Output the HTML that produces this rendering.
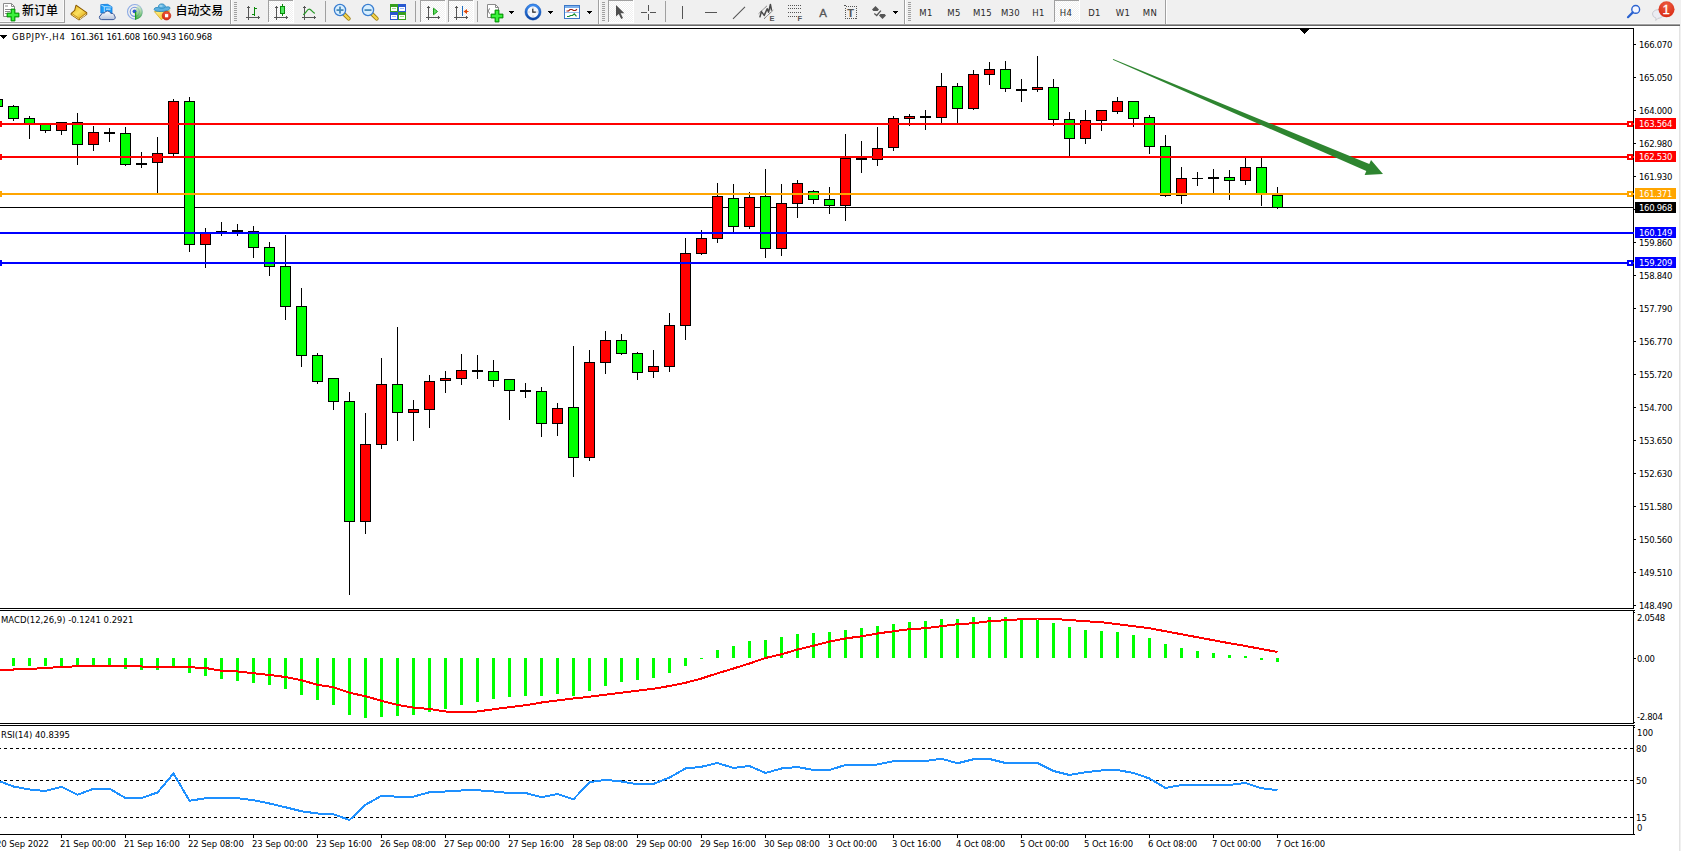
<!DOCTYPE html>
<html lang="zh"><head><meta charset="utf-8"><title>GBPJPY-,H4</title>
<style>
html,body{margin:0;padding:0;background:#fff}
body{width:1681px;height:851px;overflow:hidden;position:relative;font-family:"Liberation Sans","Noto Sans CJK SC",sans-serif}
#g{position:absolute;left:0;top:0}
.t{position:absolute;font-family:"DejaVu Sans Condensed","Liberation Sans",sans-serif;font-size:9.45px;line-height:12px;height:12px;margin-top:-2px;white-space:pre;color:#000}
.t.p{letter-spacing:-0.3px}
.t.w{color:#fff}
#edge{position:absolute;left:1679px;top:26px;width:1px;height:825px;background:#e3e3e3}
#edge2{position:absolute;left:1680px;top:0;width:1px;height:851px;background:#f0f0f0}
</style></head>
<body>
<svg id="tb" width="1681" height="28" viewBox="0 0 1681 28" style="position:absolute;left:0;top:0">
<defs><pattern id="chk" width="2" height="2" patternUnits="userSpaceOnUse"><rect width="2" height="2" fill="#f0f0f0"/><rect width="1" height="1" fill="#fff"/><rect x="1" y="1" width="1" height="1" fill="#fff"/></pattern></defs>
<g shape-rendering="crispEdges">
<rect x="0" y="0" width="1681" height="23" fill="#f0f0f0"/>
<rect x="0" y="23" width="1680" height="1" fill="#f6f6f6"/>
<rect x="0" y="24" width="1680" height="1" fill="#a0a0a0"/>
<rect x="0" y="25" width="1680" height="1" fill="#696969"/>
<rect x="0" y="26" width="1680" height="2" fill="#fff"/>
<rect x="1680" y="23" width="1" height="5" fill="#f0f0f0"/>
<rect x="0" y="22" width="65" height="1" fill="#a0a0a0"/><rect x="64" y="0" width="1" height="23" fill="#a0a0a0"/>
<rect x="0" y="21" width="64" height="1" fill="#fafafa"/><rect x="63" y="0" width="1" height="22" fill="#fafafa"/>
<rect x="230" y="0" width="1" height="24" fill="#a0a0a0"/><rect x="231" y="0" width="1" height="24" fill="#fff"/>
<rect x="234" y="2" width="3" height="1" fill="#a0a0a0"/><rect x="234" y="4" width="3" height="1" fill="#a0a0a0"/><rect x="234" y="6" width="3" height="1" fill="#a0a0a0"/><rect x="234" y="8" width="3" height="1" fill="#a0a0a0"/><rect x="234" y="10" width="3" height="1" fill="#a0a0a0"/><rect x="234" y="12" width="3" height="1" fill="#a0a0a0"/><rect x="234" y="14" width="3" height="1" fill="#a0a0a0"/><rect x="234" y="16" width="3" height="1" fill="#a0a0a0"/><rect x="234" y="18" width="3" height="1" fill="#a0a0a0"/><rect x="234" y="20" width="3" height="1" fill="#a0a0a0"/>
<rect x="325" y="1" width="1" height="21" fill="#a0a0a0"/>
<rect x="415" y="1" width="1" height="21" fill="#a0a0a0"/>
<rect x="477" y="1" width="1" height="21" fill="#a0a0a0"/>
<rect x="598" y="0" width="1" height="24" fill="#a0a0a0"/><rect x="599" y="0" width="1" height="24" fill="#fff"/>
<rect x="602" y="2" width="3" height="1" fill="#a0a0a0"/><rect x="602" y="4" width="3" height="1" fill="#a0a0a0"/><rect x="602" y="6" width="3" height="1" fill="#a0a0a0"/><rect x="602" y="8" width="3" height="1" fill="#a0a0a0"/><rect x="602" y="10" width="3" height="1" fill="#a0a0a0"/><rect x="602" y="12" width="3" height="1" fill="#a0a0a0"/><rect x="602" y="14" width="3" height="1" fill="#a0a0a0"/><rect x="602" y="16" width="3" height="1" fill="#a0a0a0"/><rect x="602" y="18" width="3" height="1" fill="#a0a0a0"/><rect x="602" y="20" width="3" height="1" fill="#a0a0a0"/>
<rect x="665" y="1" width="1" height="21" fill="#a0a0a0"/>
<rect x="904" y="0" width="1" height="24" fill="#a0a0a0"/><rect x="905" y="0" width="1" height="24" fill="#fff"/>
<rect x="908" y="2" width="3" height="1" fill="#a0a0a0"/><rect x="908" y="4" width="3" height="1" fill="#a0a0a0"/><rect x="908" y="6" width="3" height="1" fill="#a0a0a0"/><rect x="908" y="8" width="3" height="1" fill="#a0a0a0"/><rect x="908" y="10" width="3" height="1" fill="#a0a0a0"/><rect x="908" y="12" width="3" height="1" fill="#a0a0a0"/><rect x="908" y="14" width="3" height="1" fill="#a0a0a0"/><rect x="908" y="16" width="3" height="1" fill="#a0a0a0"/><rect x="908" y="18" width="3" height="1" fill="#a0a0a0"/><rect x="908" y="20" width="3" height="1" fill="#a0a0a0"/>
<rect x="1165" y="0" width="1" height="24" fill="#a0a0a0"/><rect x="1166" y="0" width="1" height="24" fill="#fff"/>
<rect x="268" y="0" width="26" height="23" fill="url(#chk)"/><rect x="268" y="0" width="25" height="1" fill="#a0a0a0"/><rect x="268" y="0" width="1" height="22" fill="#a0a0a0"/><rect x="293" y="0" width="1" height="23" fill="#fff"/><rect x="269" y="22" width="25" height="1" fill="#fff"/>
<rect x="420" y="0" width="26" height="23" fill="url(#chk)"/><rect x="420" y="0" width="25" height="1" fill="#a0a0a0"/><rect x="420" y="0" width="1" height="22" fill="#a0a0a0"/><rect x="445" y="0" width="1" height="23" fill="#fff"/><rect x="421" y="22" width="25" height="1" fill="#fff"/>
<rect x="448" y="0" width="26" height="23" fill="url(#chk)"/><rect x="448" y="0" width="25" height="1" fill="#a0a0a0"/><rect x="448" y="0" width="1" height="22" fill="#a0a0a0"/><rect x="473" y="0" width="1" height="23" fill="#fff"/><rect x="449" y="22" width="25" height="1" fill="#fff"/>
<rect x="608" y="0" width="26" height="23" fill="url(#chk)"/><rect x="608" y="0" width="25" height="1" fill="#a0a0a0"/><rect x="608" y="0" width="1" height="22" fill="#a0a0a0"/><rect x="633" y="0" width="1" height="23" fill="#fff"/><rect x="609" y="22" width="25" height="1" fill="#fff"/>
<rect x="1054" y="0" width="26" height="23" fill="url(#chk)"/><rect x="1054" y="0" width="25" height="1" fill="#a0a0a0"/><rect x="1054" y="0" width="1" height="22" fill="#a0a0a0"/><rect x="1079" y="0" width="1" height="23" fill="#fff"/><rect x="1055" y="22" width="25" height="1" fill="#fff"/>
</g>
<path d="M3.5 3.5h8l3 3v10h-11z" fill="#fff" stroke="#8a8a8a" stroke-width="1"/><path d="M11.5 3.5v3h3" fill="none" stroke="#8a8a8a" stroke-width="1"/><path d="M5.0 6.0h3M5.0 9.5h6M5.0 11.5h5M5.0 13.5h2.5" stroke="#8c8c8c" stroke-width="1"/>
<path d="M11 9h4v4h4v4h-4v4h-4v-4h-4v-4h4z" fill="#18c818" stroke="#0a8a0a" stroke-width="0.8"/><path d="M12 10h2v4h4v2h-4v4h-2v-4h-4v-2h4z" fill="#3cf03c"/>
<defs><linearGradient id="gBook" x1="0" y1="0" x2="1" y2="1"><stop offset="0" stop-color="#e8b818"/><stop offset="0.5" stop-color="#fbe060"/><stop offset="1" stop-color="#dca410"/></linearGradient><linearGradient id="gCloud" x1="0" y1="0" x2="0" y2="1"><stop offset="0" stop-color="#ffffff"/><stop offset="1" stop-color="#b8c4dc"/></linearGradient><linearGradient id="gSig" x1="0.5" y1="0" x2="0.5" y2="1"><stop offset="0" stop-color="#d8ecd0" stop-opacity="0.7"/><stop offset="1" stop-color="#28a428"/></linearGradient><linearGradient id="gFace" x1="0" y1="0" x2="1" y2="1"><stop offset="0" stop-color="#fff490"/><stop offset="1" stop-color="#f0b818"/></linearGradient><linearGradient id="gClock" x1="0" y1="0" x2="0" y2="1"><stop offset="0" stop-color="#3c8cf0"/><stop offset="1" stop-color="#0c48a8"/></linearGradient><radialGradient id="gBadge" cx="0.5" cy="0.25" r="0.8"><stop offset="0" stop-color="#ec5a40"/><stop offset="1" stop-color="#d82810"/></radialGradient></defs>
<path d="M76 5.3L86.7 12.8L86.7 14.2L79 19.9L71.2 14.6L71.2 13.4L74.7 10.5Z" fill="#c48c10" stroke="#8c5c04" stroke-width="1.1" stroke-linejoin="round"/><path d="M76.2 6L86 12.7L79 17.9L72.2 13.3L75.4 10.6Z" fill="url(#gBook)"/><path d="M71.8 14.4L79 19.2" fill="none" stroke="#f8dc70" stroke-width="0.9"/><path d="M79.8 19L86.4 14.1" fill="none" stroke="#ece0b4" stroke-width="1"/>
<path d="M100.8 4.6L107.6 4.3L112 6.8V13H100.8Z" fill="#1c9cf8" stroke="#1478d8" stroke-width="0.8" stroke-linejoin="round"/><path d="M101.4 5.2L104.3 6.6V12.5M104.3 6.6L111.6 7" fill="none" stroke="#d8f0ff" stroke-width="0.8"/><rect x="106" y="8.6" width="4.6" height="1" fill="#e8f6ff"/><path d="M101.6 19.6a2.3 2.3 0 0 1 -0.6-4.5a2.3 2.3 0 0 1 3.3-1.9a3.5 3.5 0 0 1 6.6 0.3a2.7 2.7 0 0 1 3.6 2.4a2.1 2.1 0 0 1 -1.3 3.7z" fill="url(#gCloud)" stroke="#3c5a9a" stroke-width="1" stroke-linejoin="round"/>
<circle cx="134.8" cy="11.8" r="7.3" fill="none" stroke="#6c94e0" stroke-width="1.1" opacity="0.75"/><circle cx="134.8" cy="11.8" r="4.6" fill="none" stroke="#4c78d8" stroke-width="1.1" opacity="0.8"/><path d="M134.8 11.8L137.6 4.9A7.5 7.5 0 0 1 135 19.5Z" fill="url(#gSig)" opacity="0.85"/><circle cx="134.5" cy="11.3" r="1.9" fill="#2c58d0"/><rect x="135" y="11.8" width="1.2" height="7.9" fill="#1ca01c"/>
<path d="M154.4 11.6L169.8 10.8L161.4 19.8Z" fill="url(#gFace)" stroke="#d8a818" stroke-width="0.8" stroke-linejoin="round"/><path d="M154.2 9.2C154.4 7.2 157 7.4 158.2 7.6C158.4 4.6 160 3.9 161.8 3.9S165.2 4.8 165.6 7.2C167.6 6.6 170 6.6 170 8C170 10 165.8 11.4 161.6 11.5S154 11 154.2 9.2Z" fill="#5cb0e0" stroke="#2484b8" stroke-width="0.8"/><path d="M158.8 7.6C160 8.6 163.6 8.6 165.2 7.4" fill="none" stroke="#2484b8" stroke-width="0.7"/><ellipse cx="161" cy="6" rx="1.8" ry="1.1" fill="#a8dcf4" opacity="0.8"/><circle cx="166.5" cy="15.7" r="4.3" fill="url(#gBadge)" stroke="#b81c08" stroke-width="0.6"/><rect x="165" y="14.1" width="3.2" height="3.2" fill="#fff"/>
<g fill="#555" shape-rendering="crispEdges"><rect x="248" y="6" width="1" height="14"/><rect x="247" y="7" width="3" height="1"/><rect x="246" y="17" width="14" height="1"/><rect x="258" y="16" width="1" height="3"/></g>
<g fill="#0a8a0a" shape-rendering="crispEdges"><rect x="254" y="7" width="1" height="9"/><rect x="255" y="8" width="2" height="1"/><rect x="252" y="14" width="2" height="1"/></g>
<g fill="#555" shape-rendering="crispEdges"><rect x="276" y="6" width="1" height="14"/><rect x="275" y="7" width="3" height="1"/><rect x="274" y="17" width="14" height="1"/><rect x="286" y="16" width="1" height="3"/></g>
<g shape-rendering="crispEdges"><rect x="282" y="4" width="1" height="12" fill="#0a8a0a"/><rect x="280" y="6" width="5" height="8" fill="#0a8a0a"/><rect x="281" y="7" width="3" height="6" fill="#50e860"/></g>
<g fill="#555" shape-rendering="crispEdges"><rect x="304" y="6" width="1" height="14"/><rect x="303" y="7" width="3" height="1"/><rect x="302" y="17" width="14" height="1"/><rect x="314" y="16" width="1" height="3"/></g>
<path d="M303.2 14.8C305.8 13.4 307 9.2 309.2 9.2S312.4 12.6 314.8 13.4" fill="none" stroke="#2a9a2a" stroke-width="1.2"/>
<line x1="344" y1="14" x2="348.7" y2="18.7" stroke="#9a7a10" stroke-width="4" stroke-linecap="round"/><line x1="344" y1="14" x2="348.7" y2="18.7" stroke="#f2d24a" stroke-width="2.4" stroke-linecap="round"/><circle cx="340" cy="10" r="5.6" fill="#d8efff" stroke="#3a7ed0" stroke-width="1.3"/><rect x="336.5" y="9.2" width="7" height="1.8" fill="#4a8ab8"/><rect x="339.1" y="6.6" width="1.8" height="7" fill="#4a8ab8"/>
<line x1="372" y1="14" x2="376.7" y2="18.7" stroke="#9a7a10" stroke-width="4" stroke-linecap="round"/><line x1="372" y1="14" x2="376.7" y2="18.7" stroke="#f2d24a" stroke-width="2.4" stroke-linecap="round"/><circle cx="368" cy="10" r="5.6" fill="#d8efff" stroke="#3a7ed0" stroke-width="1.3"/><rect x="364.5" y="9.2" width="7" height="1.8" fill="#4a8ab8"/>
<g shape-rendering="crispEdges"><rect x="390" y="4" width="8" height="8" fill="#38a020"/><rect x="398" y="4" width="8" height="8" fill="#2858d0"/><rect x="390" y="12" width="8" height="8" fill="#2858d0"/><rect x="398" y="12" width="8" height="8" fill="#38a020"/><rect x="391" y="7" width="6" height="4" fill="#fff"/><rect x="399" y="7" width="6" height="4" fill="#fff"/><rect x="391" y="15" width="6" height="4" fill="#fff"/><rect x="399" y="15" width="6" height="4" fill="#fff"/><rect x="392" y="8" width="4" height="1" fill="#a0d890"/><rect x="400" y="8" width="4" height="1" fill="#a0b8f0"/><rect x="392" y="16" width="4" height="1" fill="#a0b8f0"/><rect x="400" y="16" width="4" height="1" fill="#a0d890"/></g>
<g fill="#555" shape-rendering="crispEdges"><rect x="428" y="6" width="1" height="14"/><rect x="427" y="7" width="3" height="1"/><rect x="426" y="17" width="14" height="1"/><rect x="438" y="16" width="1" height="3"/></g>
<path d="M433.5 8.2L437.5 11.5L433.5 14.8Z" fill="#60e060" stroke="#1a9a1a" stroke-width="1"/>
<g fill="#555" shape-rendering="crispEdges"><rect x="456" y="6" width="1" height="14"/><rect x="455" y="7" width="3" height="1"/><rect x="454" y="17" width="14" height="1"/><rect x="466" y="16" width="1" height="3"/></g>
<rect x="462" y="6" width="1" height="10" fill="#1c6cc0" shape-rendering="crispEdges"/><path d="M463.5 11.5L467 9v5zM466 11h2.5v1H466z" fill="#e04808"/>
<path d="M487.5 4.5h8l3 3v10h-11z" fill="#fff" stroke="#8a8a8a" stroke-width="1"/><path d="M495.5 4.5v3h3" fill="none" stroke="#8a8a8a" stroke-width="1"/>
<path d="M490 8.5c-1.2 0-1.2 2.5-2 2.5c0.8 0 0.8 2.5 2 2.5" fill="none" stroke="#666" stroke-width="0.9"/>
<path d="M495 10h4v4h4v4h-4v4h-4v-4h-4v-4h4z" fill="#18c818" stroke="#0a8a0a" stroke-width="0.8"/><path d="M496 11h2v4h4v2h-4v4h-2v-4h-4v-2h4z" fill="#3cf03c"/>
<g fill="#000" shape-rendering="crispEdges"><rect x="509" y="11" width="5" height="1"/><rect x="510" y="12" width="3" height="1"/><rect x="511" y="13" width="1" height="1"/></g>
<circle cx="533" cy="12" r="6.9" fill="#f4f6fa" stroke="url(#gClock)" stroke-width="2.5"/><circle cx="533" cy="12" r="8.1" fill="none" stroke="#0c48a8" stroke-width="0.5" opacity="0.7"/><path d="M533 7.6v0.9M533 15.6v0.9M528.6 12h0.9M536.6 12h0.9" stroke="#888" stroke-width="0.7"/><path d="M532.8 8.8v3.3h3" fill="none" stroke="#222" stroke-width="1.2"/>
<g fill="#000" shape-rendering="crispEdges"><rect x="548" y="11" width="5" height="1"/><rect x="549" y="12" width="3" height="1"/><rect x="550" y="13" width="1" height="1"/></g>
<rect x="564.5" y="5.5" width="15" height="13" fill="#fff" stroke="#3c78c8" stroke-width="1"/><rect x="565" y="6" width="14" height="2" fill="#7cb0ec"/><rect x="565" y="12" width="14" height="1" fill="#9cc0ec"/><path d="M566.5 11l2-0l1.5-1.5h2l1.5 1h2l1.5-1.2" fill="none" stroke="#a02010" stroke-width="1.2"/><path d="M567 16.5h2l1.5-1h2l1.8-1.6l2.2 2.4" fill="none" stroke="#189030" stroke-width="1.2"/>
<g fill="#000" shape-rendering="crispEdges"><rect x="587" y="11" width="5" height="1"/><rect x="588" y="12" width="3" height="1"/><rect x="589" y="13" width="1" height="1"/></g>
<path d="M616 5v11.5l2.8-2.6l2.4 5l1.8-0.9l-2.4-4.8h3.8z" fill="#505050"/>
<g fill="#555" shape-rendering="crispEdges"><rect x="648" y="5" width="1" height="6"/><rect x="648" y="14" width="1" height="6"/><rect x="641" y="12" width="6" height="1"/><rect x="650" y="12" width="6" height="1"/></g>
<rect x="682" y="6" width="1" height="13" fill="#555" shape-rendering="crispEdges"/>
<rect x="705" y="12" width="12" height="1" fill="#555" shape-rendering="crispEdges"/>
<line x1="733" y1="18.8" x2="745" y2="6.8" stroke="#555" stroke-width="1.1"/>
<g stroke="#484848" fill="none"><path d="M758.7 13.6L766.8 6M764 18.8L773.2 10.2" stroke-width="0.9" stroke-dasharray="1.2 0.5"/><path d="M759.8 17.4L761.4 11.6L764.2 15.4L767.2 8.8L768.6 12.2L770.4 4.4L771.6 10.6" stroke-width="1.5" stroke-linejoin="round"/></g>
<g stroke="#555" stroke-width="1" stroke-dasharray="1 1" shape-rendering="crispEdges"><path d="M788 5.5h14M788 8.5h14M788 12.5h14M788 16.5h9"/></g>
<rect x="845.5" y="6.5" width="11" height="12" fill="none" stroke="#555" stroke-width="1" stroke-dasharray="1 1" shape-rendering="crispEdges"/><rect x="844" y="5" width="2" height="1" fill="#555"/>
<path d="M875.5 6L879 9.5L877.6 11H873.4L872 9.5ZM882.5 19L886 15.5L884.6 14H880.4L879 15.5Z" fill="#555"/><path d="M874.3 13.6l2.4 1.9l4.2-4.9" fill="none" stroke="#555" stroke-width="1.3"/>
<g fill="#000" shape-rendering="crispEdges"><rect x="893" y="11" width="5" height="1"/><rect x="894" y="12" width="3" height="1"/><rect x="895" y="13" width="1" height="1"/></g>
<circle cx="1635.7" cy="9.4" r="3.9" fill="#f4f6ff" stroke="#2a62d0" stroke-width="1.4"/><line x1="1632.8" y1="12.4" x2="1628" y2="17.2" stroke="#2a62d0" stroke-width="2.2" stroke-linecap="round"/>
<path d="M1652.5 14a5.5 4.3 0 1 1 5.5 4.3l-2.2 2.2l0.2-2.4a5.5 4.3 0 0 1 -3.5-4.1z" fill="#ebecf2" stroke="#c2c2c8" stroke-width="0.8"/>
<circle cx="1666.5" cy="9.3" r="8" fill="url(#gBadge)"/>
</svg>
<style>.cj{position:absolute;top:3px;height:16px;line-height:16px;font-size:12px;font-weight:500;color:#000;white-space:nowrap}.tf{position:absolute;top:7px;width:28px;margin-left:-14px;text-align:center;font-family:"DejaVu Sans Condensed","Liberation Sans",sans-serif;font-size:9.45px;letter-spacing:0.3px;line-height:12px;color:#2a2a2a}.gl{position:absolute;color:#555;font-weight:bold;line-height:1}</style>
<div class="cj" style="left:22px">新订单</div>
<div class="cj" style="left:175.5px;letter-spacing:-0.1px">自动交易</div>
<div class="tf" style="left:926px">M1</div>
<div class="tf" style="left:954px">M5</div>
<div class="tf" style="left:982.5px">M15</div>
<div class="tf" style="left:1010.5px">M30</div>
<div class="tf" style="left:1038.5px">H1</div>
<div class="tf" style="left:1066px">H4</div>
<div class="tf" style="left:1094.5px">D1</div>
<div class="tf" style="left:1123px">W1</div>
<div class="tf" style="left:1150px">MN</div>
<div class="gl" style="left:769.5px;top:15px;font-size:7.5px">E</div>
<div class="gl" style="left:797.5px;top:15px;font-size:7.5px">F</div>
<div class="gl" style="left:819.3px;top:7.6px;font-size:11.5px;font-weight:normal;-webkit-text-stroke:0.3px #555">A</div>
<div class="gl" style="left:847.3px;top:8px;font-size:11px;font-weight:bold;-webkit-text-stroke:0.15px #555">T</div>
<div class="gl" style="left:1662.6px;top:2.5px;font-size:13px;font-weight:normal;color:#fff;-webkit-text-stroke:0.3px #fff">1</div>
<svg id="g" width="1681" height="851" viewBox="0 0 1681 851" shape-rendering="crispEdges">
<rect x="0" y="28" width="1634" height="1" fill="#000"/>
<rect x="1633" y="28" width="1" height="581" fill="#000"/>
<rect x="0" y="608" width="1634" height="1" fill="#000"/>
<rect x="0" y="610" width="1635" height="1" fill="#000"/>
<rect x="1633" y="610" width="1" height="114" fill="#000"/>
<rect x="0" y="723" width="1634" height="1" fill="#000"/>
<rect x="0" y="725" width="1635" height="1" fill="#000"/>
<rect x="1633" y="725" width="1" height="110" fill="#000"/>
<rect x="0" y="834" width="1635" height="1" fill="#000"/>
<rect x="1300" y="29" width="9" height="1" fill="#000"/>
<rect x="1301" y="30" width="7" height="1" fill="#000"/>
<rect x="1302" y="31" width="5" height="1" fill="#000"/>
<rect x="1303" y="32" width="3" height="1" fill="#000"/>
<rect x="1304" y="33" width="1" height="1" fill="#000"/>
<rect x="0" y="35" width="7" height="1" fill="#000"/>
<rect x="1" y="36" width="5" height="1" fill="#000"/>
<rect x="2" y="37" width="3" height="1" fill="#000"/>
<rect x="3" y="38" width="1" height="1" fill="#000"/>
<rect x="1634" y="44" width="2" height="1" fill="#000"/>
<rect x="1634" y="77" width="2" height="1" fill="#000"/>
<rect x="1634" y="110" width="2" height="1" fill="#000"/>
<rect x="1634" y="143" width="2" height="1" fill="#000"/>
<rect x="1634" y="176" width="2" height="1" fill="#000"/>
<rect x="1634" y="209" width="2" height="1" fill="#000"/>
<rect x="1634" y="242" width="2" height="1" fill="#000"/>
<rect x="1634" y="275" width="2" height="1" fill="#000"/>
<rect x="1634" y="308" width="2" height="1" fill="#000"/>
<rect x="1634" y="341" width="2" height="1" fill="#000"/>
<rect x="1634" y="374" width="2" height="1" fill="#000"/>
<rect x="1634" y="407" width="2" height="1" fill="#000"/>
<rect x="1634" y="440" width="2" height="1" fill="#000"/>
<rect x="1634" y="473" width="2" height="1" fill="#000"/>
<rect x="1634" y="506" width="2" height="1" fill="#000"/>
<rect x="1634" y="539" width="2" height="1" fill="#000"/>
<rect x="1634" y="572" width="2" height="1" fill="#000"/>
<rect x="1634" y="605" width="2" height="1" fill="#000"/>
<rect x="1634" y="612" width="1" height="1" fill="#000"/>
<rect x="1634" y="658" width="2" height="1" fill="#000"/>
<rect x="1634" y="722" width="1" height="1" fill="#000"/>
<rect x="1634" y="727" width="1" height="1" fill="#000"/>
<rect x="-3" y="835" width="1" height="3" fill="#000"/>
<rect x="61" y="835" width="1" height="3" fill="#000"/>
<rect x="125" y="835" width="1" height="3" fill="#000"/>
<rect x="189" y="835" width="1" height="3" fill="#000"/>
<rect x="253" y="835" width="1" height="3" fill="#000"/>
<rect x="317" y="835" width="1" height="3" fill="#000"/>
<rect x="381" y="835" width="1" height="3" fill="#000"/>
<rect x="445" y="835" width="1" height="3" fill="#000"/>
<rect x="509" y="835" width="1" height="3" fill="#000"/>
<rect x="573" y="835" width="1" height="3" fill="#000"/>
<rect x="637" y="835" width="1" height="3" fill="#000"/>
<rect x="701" y="835" width="1" height="3" fill="#000"/>
<rect x="765" y="835" width="1" height="3" fill="#000"/>
<rect x="829" y="835" width="1" height="3" fill="#000"/>
<rect x="893" y="835" width="1" height="3" fill="#000"/>
<rect x="957" y="835" width="1" height="3" fill="#000"/>
<rect x="1021" y="835" width="1" height="3" fill="#000"/>
<rect x="1085" y="835" width="1" height="3" fill="#000"/>
<rect x="1149" y="835" width="1" height="3" fill="#000"/>
<rect x="1213" y="835" width="1" height="3" fill="#000"/>
<rect x="1277" y="835" width="1" height="3" fill="#000"/>
<rect x="0" y="207" width="1633" height="1" fill="#000"/>
<rect x="-3" y="99" width="1" height="8" fill="#000"/>
<rect x="-8" y="99" width="11" height="8" fill="#000"/>
<rect x="-7" y="100" width="9" height="6" fill="#00ff00"/>
<rect x="13" y="105" width="1" height="16" fill="#000"/>
<rect x="8" y="106" width="11" height="13" fill="#000"/>
<rect x="9" y="107" width="9" height="11" fill="#00ff00"/>
<rect x="29" y="116" width="1" height="23" fill="#000"/>
<rect x="24" y="118" width="11" height="7" fill="#000"/>
<rect x="25" y="119" width="9" height="5" fill="#00ff00"/>
<rect x="45" y="123" width="1" height="10" fill="#000"/>
<rect x="40" y="123" width="11" height="8" fill="#000"/>
<rect x="41" y="124" width="9" height="6" fill="#00ff00"/>
<rect x="61" y="122" width="1" height="13" fill="#000"/>
<rect x="56" y="122" width="11" height="9" fill="#000"/>
<rect x="57" y="123" width="9" height="7" fill="#ff0000"/>
<rect x="77" y="113" width="1" height="52" fill="#000"/>
<rect x="72" y="122" width="11" height="23" fill="#000"/>
<rect x="73" y="123" width="9" height="21" fill="#00ff00"/>
<rect x="93" y="126" width="1" height="25" fill="#000"/>
<rect x="88" y="132" width="11" height="13" fill="#000"/>
<rect x="89" y="133" width="9" height="11" fill="#ff0000"/>
<rect x="109" y="128" width="1" height="14" fill="#000"/>
<rect x="104" y="132" width="11" height="2" fill="#000"/>
<rect x="125" y="127" width="1" height="39" fill="#000"/>
<rect x="120" y="133" width="11" height="32" fill="#000"/>
<rect x="121" y="134" width="9" height="30" fill="#00ff00"/>
<rect x="141" y="152" width="1" height="16" fill="#000"/>
<rect x="136" y="163" width="11" height="2" fill="#000"/>
<rect x="157" y="137" width="1" height="57" fill="#000"/>
<rect x="152" y="153" width="11" height="10" fill="#000"/>
<rect x="153" y="154" width="9" height="8" fill="#ff0000"/>
<rect x="173" y="99" width="1" height="57" fill="#000"/>
<rect x="168" y="101" width="11" height="53" fill="#000"/>
<rect x="169" y="102" width="9" height="51" fill="#ff0000"/>
<rect x="189" y="97" width="1" height="155" fill="#000"/>
<rect x="184" y="101" width="11" height="144" fill="#000"/>
<rect x="185" y="102" width="9" height="142" fill="#00ff00"/>
<rect x="205" y="228" width="1" height="40" fill="#000"/>
<rect x="200" y="233" width="11" height="12" fill="#000"/>
<rect x="201" y="234" width="9" height="10" fill="#ff0000"/>
<rect x="221" y="222" width="1" height="14" fill="#000"/>
<rect x="216" y="231" width="11" height="1" fill="#000"/>
<rect x="237" y="224" width="1" height="12" fill="#000"/>
<rect x="232" y="230" width="11" height="2" fill="#000"/>
<rect x="253" y="226" width="1" height="32" fill="#000"/>
<rect x="248" y="231" width="11" height="17" fill="#000"/>
<rect x="249" y="232" width="9" height="15" fill="#00ff00"/>
<rect x="269" y="242" width="1" height="34" fill="#000"/>
<rect x="264" y="247" width="11" height="20" fill="#000"/>
<rect x="265" y="248" width="9" height="18" fill="#00ff00"/>
<rect x="285" y="235" width="1" height="85" fill="#000"/>
<rect x="280" y="266" width="11" height="41" fill="#000"/>
<rect x="281" y="267" width="9" height="39" fill="#00ff00"/>
<rect x="301" y="288" width="1" height="79" fill="#000"/>
<rect x="296" y="306" width="11" height="50" fill="#000"/>
<rect x="297" y="307" width="9" height="48" fill="#00ff00"/>
<rect x="317" y="353" width="1" height="31" fill="#000"/>
<rect x="312" y="355" width="11" height="27" fill="#000"/>
<rect x="313" y="356" width="9" height="25" fill="#00ff00"/>
<rect x="333" y="378" width="1" height="32" fill="#000"/>
<rect x="328" y="378" width="11" height="24" fill="#000"/>
<rect x="329" y="379" width="9" height="22" fill="#00ff00"/>
<rect x="349" y="392" width="1" height="203" fill="#000"/>
<rect x="344" y="401" width="11" height="121" fill="#000"/>
<rect x="345" y="402" width="9" height="119" fill="#00ff00"/>
<rect x="365" y="413" width="1" height="121" fill="#000"/>
<rect x="360" y="444" width="11" height="78" fill="#000"/>
<rect x="361" y="445" width="9" height="76" fill="#ff0000"/>
<rect x="381" y="358" width="1" height="91" fill="#000"/>
<rect x="376" y="384" width="11" height="61" fill="#000"/>
<rect x="377" y="385" width="9" height="59" fill="#ff0000"/>
<rect x="397" y="327" width="1" height="114" fill="#000"/>
<rect x="392" y="384" width="11" height="29" fill="#000"/>
<rect x="393" y="385" width="9" height="27" fill="#00ff00"/>
<rect x="413" y="400" width="1" height="41" fill="#000"/>
<rect x="408" y="409" width="11" height="4" fill="#000"/>
<rect x="409" y="410" width="9" height="2" fill="#ff0000"/>
<rect x="429" y="375" width="1" height="53" fill="#000"/>
<rect x="424" y="381" width="11" height="29" fill="#000"/>
<rect x="425" y="382" width="9" height="27" fill="#ff0000"/>
<rect x="445" y="371" width="1" height="22" fill="#000"/>
<rect x="440" y="378" width="11" height="3" fill="#000"/>
<rect x="441" y="379" width="9" height="1" fill="#ff0000"/>
<rect x="461" y="354" width="1" height="31" fill="#000"/>
<rect x="456" y="370" width="11" height="9" fill="#000"/>
<rect x="457" y="371" width="9" height="7" fill="#ff0000"/>
<rect x="477" y="355" width="1" height="24" fill="#000"/>
<rect x="472" y="370" width="11" height="2" fill="#000"/>
<rect x="493" y="360" width="1" height="27" fill="#000"/>
<rect x="488" y="371" width="11" height="10" fill="#000"/>
<rect x="489" y="372" width="9" height="8" fill="#00ff00"/>
<rect x="509" y="379" width="1" height="41" fill="#000"/>
<rect x="504" y="379" width="11" height="12" fill="#000"/>
<rect x="505" y="380" width="9" height="10" fill="#00ff00"/>
<rect x="525" y="383" width="1" height="15" fill="#000"/>
<rect x="520" y="390" width="11" height="2" fill="#000"/>
<rect x="541" y="387" width="1" height="50" fill="#000"/>
<rect x="536" y="391" width="11" height="33" fill="#000"/>
<rect x="537" y="392" width="9" height="31" fill="#00ff00"/>
<rect x="557" y="403" width="1" height="33" fill="#000"/>
<rect x="552" y="408" width="11" height="16" fill="#000"/>
<rect x="553" y="409" width="9" height="14" fill="#ff0000"/>
<rect x="573" y="346" width="1" height="131" fill="#000"/>
<rect x="568" y="407" width="11" height="51" fill="#000"/>
<rect x="569" y="408" width="9" height="49" fill="#00ff00"/>
<rect x="589" y="350" width="1" height="111" fill="#000"/>
<rect x="584" y="362" width="11" height="96" fill="#000"/>
<rect x="585" y="363" width="9" height="94" fill="#ff0000"/>
<rect x="605" y="331" width="1" height="43" fill="#000"/>
<rect x="600" y="340" width="11" height="23" fill="#000"/>
<rect x="601" y="341" width="9" height="21" fill="#ff0000"/>
<rect x="621" y="334" width="1" height="21" fill="#000"/>
<rect x="616" y="340" width="11" height="14" fill="#000"/>
<rect x="617" y="341" width="9" height="12" fill="#00ff00"/>
<rect x="637" y="352" width="1" height="28" fill="#000"/>
<rect x="632" y="353" width="11" height="20" fill="#000"/>
<rect x="633" y="354" width="9" height="18" fill="#00ff00"/>
<rect x="653" y="350" width="1" height="28" fill="#000"/>
<rect x="648" y="366" width="11" height="6" fill="#000"/>
<rect x="649" y="367" width="9" height="4" fill="#ff0000"/>
<rect x="669" y="313" width="1" height="59" fill="#000"/>
<rect x="664" y="325" width="11" height="42" fill="#000"/>
<rect x="665" y="326" width="9" height="40" fill="#ff0000"/>
<rect x="685" y="238" width="1" height="102" fill="#000"/>
<rect x="680" y="253" width="11" height="73" fill="#000"/>
<rect x="681" y="254" width="9" height="71" fill="#ff0000"/>
<rect x="701" y="230" width="1" height="25" fill="#000"/>
<rect x="696" y="238" width="11" height="16" fill="#000"/>
<rect x="697" y="239" width="9" height="14" fill="#ff0000"/>
<rect x="717" y="183" width="1" height="60" fill="#000"/>
<rect x="712" y="196" width="11" height="43" fill="#000"/>
<rect x="713" y="197" width="9" height="41" fill="#ff0000"/>
<rect x="733" y="184" width="1" height="48" fill="#000"/>
<rect x="728" y="198" width="11" height="29" fill="#000"/>
<rect x="729" y="199" width="9" height="27" fill="#00ff00"/>
<rect x="749" y="192" width="1" height="37" fill="#000"/>
<rect x="744" y="197" width="11" height="30" fill="#000"/>
<rect x="745" y="198" width="9" height="28" fill="#ff0000"/>
<rect x="765" y="169" width="1" height="89" fill="#000"/>
<rect x="760" y="196" width="11" height="53" fill="#000"/>
<rect x="761" y="197" width="9" height="51" fill="#00ff00"/>
<rect x="781" y="184" width="1" height="72" fill="#000"/>
<rect x="776" y="203" width="11" height="46" fill="#000"/>
<rect x="777" y="204" width="9" height="44" fill="#ff0000"/>
<rect x="797" y="180" width="1" height="38" fill="#000"/>
<rect x="792" y="183" width="11" height="21" fill="#000"/>
<rect x="793" y="184" width="9" height="19" fill="#ff0000"/>
<rect x="813" y="190" width="1" height="14" fill="#000"/>
<rect x="808" y="191" width="11" height="9" fill="#000"/>
<rect x="809" y="192" width="9" height="7" fill="#00ff00"/>
<rect x="829" y="187" width="1" height="27" fill="#000"/>
<rect x="824" y="199" width="11" height="7" fill="#000"/>
<rect x="825" y="200" width="9" height="5" fill="#00ff00"/>
<rect x="845" y="134" width="1" height="87" fill="#000"/>
<rect x="840" y="158" width="11" height="48" fill="#000"/>
<rect x="841" y="159" width="9" height="46" fill="#ff0000"/>
<rect x="861" y="141" width="1" height="32" fill="#000"/>
<rect x="856" y="158" width="11" height="2" fill="#000"/>
<rect x="877" y="127" width="1" height="39" fill="#000"/>
<rect x="872" y="148" width="11" height="12" fill="#000"/>
<rect x="873" y="149" width="9" height="10" fill="#ff0000"/>
<rect x="893" y="116" width="1" height="35" fill="#000"/>
<rect x="888" y="118" width="11" height="30" fill="#000"/>
<rect x="889" y="119" width="9" height="28" fill="#ff0000"/>
<rect x="909" y="114" width="1" height="12" fill="#000"/>
<rect x="904" y="116" width="11" height="3" fill="#000"/>
<rect x="905" y="117" width="9" height="1" fill="#ff0000"/>
<rect x="925" y="110" width="1" height="20" fill="#000"/>
<rect x="920" y="116" width="11" height="2" fill="#000"/>
<rect x="941" y="73" width="1" height="51" fill="#000"/>
<rect x="936" y="86" width="11" height="32" fill="#000"/>
<rect x="937" y="87" width="9" height="30" fill="#ff0000"/>
<rect x="957" y="83" width="1" height="41" fill="#000"/>
<rect x="952" y="86" width="11" height="23" fill="#000"/>
<rect x="953" y="87" width="9" height="21" fill="#00ff00"/>
<rect x="973" y="70" width="1" height="40" fill="#000"/>
<rect x="968" y="74" width="11" height="35" fill="#000"/>
<rect x="969" y="75" width="9" height="33" fill="#ff0000"/>
<rect x="989" y="62" width="1" height="23" fill="#000"/>
<rect x="984" y="69" width="11" height="6" fill="#000"/>
<rect x="985" y="70" width="9" height="4" fill="#ff0000"/>
<rect x="1005" y="61" width="1" height="31" fill="#000"/>
<rect x="1000" y="69" width="11" height="20" fill="#000"/>
<rect x="1001" y="70" width="9" height="18" fill="#00ff00"/>
<rect x="1021" y="79" width="1" height="23" fill="#000"/>
<rect x="1016" y="89" width="11" height="2" fill="#000"/>
<rect x="1037" y="56" width="1" height="36" fill="#000"/>
<rect x="1032" y="87" width="11" height="3" fill="#000"/>
<rect x="1033" y="88" width="9" height="1" fill="#ff0000"/>
<rect x="1053" y="79" width="1" height="47" fill="#000"/>
<rect x="1048" y="87" width="11" height="33" fill="#000"/>
<rect x="1049" y="88" width="9" height="31" fill="#00ff00"/>
<rect x="1069" y="112" width="1" height="44" fill="#000"/>
<rect x="1064" y="119" width="11" height="20" fill="#000"/>
<rect x="1065" y="120" width="9" height="18" fill="#00ff00"/>
<rect x="1085" y="110" width="1" height="34" fill="#000"/>
<rect x="1080" y="120" width="11" height="19" fill="#000"/>
<rect x="1081" y="121" width="9" height="17" fill="#ff0000"/>
<rect x="1101" y="110" width="1" height="21" fill="#000"/>
<rect x="1096" y="110" width="11" height="11" fill="#000"/>
<rect x="1097" y="111" width="9" height="9" fill="#ff0000"/>
<rect x="1117" y="97" width="1" height="17" fill="#000"/>
<rect x="1112" y="101" width="11" height="11" fill="#000"/>
<rect x="1113" y="102" width="9" height="9" fill="#ff0000"/>
<rect x="1133" y="101" width="1" height="26" fill="#000"/>
<rect x="1128" y="101" width="11" height="18" fill="#000"/>
<rect x="1129" y="102" width="9" height="16" fill="#00ff00"/>
<rect x="1149" y="115" width="1" height="39" fill="#000"/>
<rect x="1144" y="117" width="11" height="30" fill="#000"/>
<rect x="1145" y="118" width="9" height="28" fill="#00ff00"/>
<rect x="1165" y="135" width="1" height="62" fill="#000"/>
<rect x="1160" y="146" width="11" height="50" fill="#000"/>
<rect x="1161" y="147" width="9" height="48" fill="#00ff00"/>
<rect x="1181" y="167" width="1" height="37" fill="#000"/>
<rect x="1176" y="178" width="11" height="18" fill="#000"/>
<rect x="1177" y="179" width="9" height="16" fill="#ff0000"/>
<rect x="1197" y="172" width="1" height="14" fill="#000"/>
<rect x="1192" y="178" width="11" height="1" fill="#000"/>
<rect x="1213" y="169" width="1" height="24" fill="#000"/>
<rect x="1208" y="177" width="11" height="2" fill="#000"/>
<rect x="1229" y="170" width="1" height="30" fill="#000"/>
<rect x="1224" y="177" width="11" height="4" fill="#000"/>
<rect x="1225" y="178" width="9" height="2" fill="#00ff00"/>
<rect x="1245" y="158" width="1" height="27" fill="#000"/>
<rect x="1240" y="167" width="11" height="14" fill="#000"/>
<rect x="1241" y="168" width="9" height="12" fill="#ff0000"/>
<rect x="1261" y="158" width="1" height="48" fill="#000"/>
<rect x="1256" y="167" width="11" height="28" fill="#000"/>
<rect x="1257" y="168" width="9" height="26" fill="#00ff00"/>
<rect x="1277" y="187" width="1" height="22" fill="#000"/>
<rect x="1272" y="195" width="11" height="13" fill="#000"/>
<rect x="1273" y="196" width="9" height="11" fill="#00ff00"/>
<rect x="0" y="123" width="1634" height="2" fill="#ff0000"/>
<rect x="-4" y="121" width="6" height="6" fill="#ff0000"/>
<rect x="1627" y="121" width="6" height="6" fill="#ff0000"/>
<rect x="1629" y="123" width="2" height="2" fill="#fff"/>
<rect x="0" y="156" width="1634" height="2" fill="#ff0000"/>
<rect x="-4" y="154" width="6" height="6" fill="#ff0000"/>
<rect x="1627" y="154" width="6" height="6" fill="#ff0000"/>
<rect x="1629" y="156" width="2" height="2" fill="#fff"/>
<rect x="0" y="193" width="1634" height="2" fill="#ffa500"/>
<rect x="-4" y="191" width="6" height="6" fill="#ffa500"/>
<rect x="1627" y="191" width="6" height="6" fill="#ffa500"/>
<rect x="1629" y="193" width="2" height="2" fill="#fff"/>
<rect x="0" y="232" width="1634" height="2" fill="#0000ff"/>
<rect x="0" y="262" width="1634" height="2" fill="#0000ff"/>
<rect x="-4" y="260" width="6" height="6" fill="#0000ff"/>
<rect x="1627" y="260" width="6" height="6" fill="#0000ff"/>
<rect x="1629" y="262" width="2" height="2" fill="#fff"/>
<rect x="1635" y="118" width="41" height="11" fill="#ff0000"/>
<rect x="1635" y="151" width="41" height="11" fill="#ff0000"/>
<rect x="1635" y="188" width="41" height="11" fill="#ffa500"/>
<rect x="1635" y="202" width="41" height="11" fill="#000"/>
<rect x="1635" y="227" width="41" height="11" fill="#0000ff"/>
<rect x="1635" y="257" width="41" height="11" fill="#0000ff"/>
<rect x="12" y="658" width="3" height="8" fill="#00ff00"/>
<rect x="28" y="658" width="3" height="8" fill="#00ff00"/>
<rect x="44" y="658" width="3" height="8" fill="#00ff00"/>
<rect x="60" y="658" width="3" height="8" fill="#00ff00"/>
<rect x="76" y="658" width="3" height="8" fill="#00ff00"/>
<rect x="92" y="658" width="3" height="7" fill="#00ff00"/>
<rect x="108" y="658" width="3" height="7" fill="#00ff00"/>
<rect x="124" y="658" width="3" height="11" fill="#00ff00"/>
<rect x="140" y="658" width="3" height="12" fill="#00ff00"/>
<rect x="156" y="658" width="3" height="12" fill="#00ff00"/>
<rect x="172" y="658" width="3" height="9" fill="#00ff00"/>
<rect x="188" y="658" width="3" height="15" fill="#00ff00"/>
<rect x="204" y="658" width="3" height="18" fill="#00ff00"/>
<rect x="220" y="658" width="3" height="21" fill="#00ff00"/>
<rect x="236" y="658" width="3" height="23" fill="#00ff00"/>
<rect x="252" y="658" width="3" height="25" fill="#00ff00"/>
<rect x="268" y="658" width="3" height="27" fill="#00ff00"/>
<rect x="284" y="658" width="3" height="31" fill="#00ff00"/>
<rect x="300" y="658" width="3" height="37" fill="#00ff00"/>
<rect x="316" y="658" width="3" height="42" fill="#00ff00"/>
<rect x="332" y="658" width="3" height="47" fill="#00ff00"/>
<rect x="348" y="658" width="3" height="57" fill="#00ff00"/>
<rect x="364" y="658" width="3" height="60" fill="#00ff00"/>
<rect x="380" y="658" width="3" height="59" fill="#00ff00"/>
<rect x="396" y="658" width="3" height="58" fill="#00ff00"/>
<rect x="412" y="658" width="3" height="57" fill="#00ff00"/>
<rect x="428" y="658" width="3" height="54" fill="#00ff00"/>
<rect x="444" y="658" width="3" height="51" fill="#00ff00"/>
<rect x="460" y="658" width="3" height="47" fill="#00ff00"/>
<rect x="476" y="658" width="3" height="44" fill="#00ff00"/>
<rect x="492" y="658" width="3" height="41" fill="#00ff00"/>
<rect x="508" y="658" width="3" height="39" fill="#00ff00"/>
<rect x="524" y="658" width="3" height="38" fill="#00ff00"/>
<rect x="540" y="658" width="3" height="38" fill="#00ff00"/>
<rect x="556" y="658" width="3" height="36" fill="#00ff00"/>
<rect x="572" y="658" width="3" height="38" fill="#00ff00"/>
<rect x="588" y="658" width="3" height="33" fill="#00ff00"/>
<rect x="604" y="658" width="3" height="28" fill="#00ff00"/>
<rect x="620" y="658" width="3" height="24" fill="#00ff00"/>
<rect x="636" y="658" width="3" height="22" fill="#00ff00"/>
<rect x="652" y="658" width="3" height="20" fill="#00ff00"/>
<rect x="668" y="658" width="3" height="15" fill="#00ff00"/>
<rect x="684" y="658" width="3" height="8" fill="#00ff00"/>
<rect x="700" y="658" width="3" height="1" fill="#00ff00"/>
<rect x="716" y="650" width="3" height="8" fill="#00ff00"/>
<rect x="732" y="646" width="3" height="12" fill="#00ff00"/>
<rect x="748" y="641" width="3" height="17" fill="#00ff00"/>
<rect x="764" y="640" width="3" height="18" fill="#00ff00"/>
<rect x="780" y="637" width="3" height="21" fill="#00ff00"/>
<rect x="796" y="634" width="3" height="24" fill="#00ff00"/>
<rect x="812" y="633" width="3" height="25" fill="#00ff00"/>
<rect x="828" y="632" width="3" height="26" fill="#00ff00"/>
<rect x="844" y="630" width="3" height="28" fill="#00ff00"/>
<rect x="860" y="628" width="3" height="30" fill="#00ff00"/>
<rect x="876" y="626" width="3" height="32" fill="#00ff00"/>
<rect x="892" y="624" width="3" height="34" fill="#00ff00"/>
<rect x="908" y="622" width="3" height="36" fill="#00ff00"/>
<rect x="924" y="621" width="3" height="37" fill="#00ff00"/>
<rect x="940" y="619" width="3" height="39" fill="#00ff00"/>
<rect x="956" y="619" width="3" height="39" fill="#00ff00"/>
<rect x="972" y="617" width="3" height="41" fill="#00ff00"/>
<rect x="988" y="617" width="3" height="41" fill="#00ff00"/>
<rect x="1004" y="617" width="3" height="41" fill="#00ff00"/>
<rect x="1020" y="619" width="3" height="39" fill="#00ff00"/>
<rect x="1036" y="620" width="3" height="38" fill="#00ff00"/>
<rect x="1052" y="623" width="3" height="35" fill="#00ff00"/>
<rect x="1068" y="627" width="3" height="31" fill="#00ff00"/>
<rect x="1084" y="630" width="3" height="28" fill="#00ff00"/>
<rect x="1100" y="631" width="3" height="27" fill="#00ff00"/>
<rect x="1116" y="632" width="3" height="26" fill="#00ff00"/>
<rect x="1132" y="635" width="3" height="23" fill="#00ff00"/>
<rect x="1148" y="638" width="3" height="20" fill="#00ff00"/>
<rect x="1164" y="644" width="3" height="14" fill="#00ff00"/>
<rect x="1180" y="648" width="3" height="10" fill="#00ff00"/>
<rect x="1196" y="651" width="3" height="7" fill="#00ff00"/>
<rect x="1212" y="653" width="3" height="5" fill="#00ff00"/>
<rect x="1228" y="655" width="3" height="3" fill="#00ff00"/>
<rect x="1244" y="656" width="3" height="2" fill="#00ff00"/>
<rect x="1260" y="658" width="3" height="2" fill="#00ff00"/>
<rect x="1276" y="658" width="3" height="4" fill="#00ff00"/>
<polyline points="-2.5,669.5 13.5,669.5 29.5,669 45.5,668 61.5,667 77.5,666.25 93.5,665.75 109.5,665.75 125.5,666 141.5,666.5 157.5,666.75 173.5,666.75 189.5,667.25 205.5,668 221.5,670.75 237.5,671.5 253.5,673.25 269.5,675 285.5,677 301.5,680.25 317.5,684.75 333.5,687.25 349.5,692.75 365.5,696.25 381.5,700.75 397.5,705 413.5,707.6 429.5,709 445.5,711.5 461.5,712 477.5,711.5 493.5,709.25 509.5,707.25 525.5,705.25 541.5,702.5 557.5,700.5 573.5,698.5 589.5,696.75 605.5,694.75 621.5,692.75 637.5,690.75 653.5,688.75 669.5,686 685.5,682.75 701.5,678.5 717.5,673.25 733.5,668.5 749.5,663.5 765.5,658 781.5,654.25 797.5,649.5 813.5,645.75 829.5,641.5 845.5,638.5 861.5,636.25 877.5,633.5 893.5,631.25 909.5,629.25 925.5,628.25 941.5,626.25 957.5,624.25 973.5,623.25 989.5,621.25 1005.5,620.25 1021.5,619.25 1037.5,618.5 1053.5,619 1069.5,620 1085.5,621.25 1101.5,622.25 1117.5,624.25 1133.5,626.25 1149.5,628.25 1165.5,631.25 1181.5,634.25 1197.5,637.25 1213.5,640.25 1229.5,643.25 1245.5,646 1261.5,649 1277.5,652" fill="none" stroke="#ff0000" stroke-width="2" stroke-linejoin="round"/>
<line x1="-2" y1="748.5" x2="1633" y2="748.5" stroke="#000" stroke-width="1" stroke-dasharray="3 3"/>
<line x1="-2" y1="780.5" x2="1633" y2="780.5" stroke="#000" stroke-width="1" stroke-dasharray="3 3"/>
<line x1="-2" y1="817.5" x2="1633" y2="817.5" stroke="#000" stroke-width="1" stroke-dasharray="3 3"/>
<polyline points="-2.5,780.5 13.5,786.5 29.5,789.5 45.5,791 61.5,786.75 77.5,794.75 93.5,788.75 109.5,788.75 125.5,798 141.5,798 157.5,792.5 173.5,773.5 189.5,800.75 205.5,798.25 221.5,798 237.5,798.25 253.5,800.25 269.5,803.5 285.5,807.25 301.5,811.25 317.5,813.5 333.5,814.25 349.5,820 365.5,804.75 381.5,795.75 397.5,796.75 413.5,796.6 429.5,792.25 445.5,791.5 461.5,790.5 477.5,790.25 493.5,791.5 509.5,793 525.5,793 541.5,797.25 557.5,794 573.5,799.25 589.5,782.25 605.5,779.75 621.5,781.5 637.5,784.25 653.5,784 669.5,777.5 685.5,768.5 701.5,766.75 717.5,763 733.5,768 749.5,766 765.5,773 781.5,768.5 797.5,767 813.5,770 829.5,770 845.5,765 861.5,765 877.5,764.5 893.5,761.25 909.5,761 925.5,761 941.5,758.75 957.5,763.25 973.5,759.25 989.5,759 1005.5,763 1021.5,763 1037.5,763 1053.5,771 1069.5,775 1085.5,772.25 1101.5,770.5 1117.5,770 1133.5,773 1149.5,778.5 1165.5,788 1181.5,785 1197.5,785 1213.5,785 1229.5,785 1245.5,783 1261.5,788.25 1277.5,790.25" fill="none" stroke="#1e90ff" stroke-width="2" stroke-linejoin="round"/>
<polygon shape-rendering="geometricPrecision" fill="#2e8530" points="1112.82,59.81 1366.33,171.05 1364.61,175.10 1383.00,174.00 1371.02,160.01 1369.30,164.06 1113.18,58.99"/>
</svg>
<div class="t " style="left:12px;top:33px;"><span style="letter-spacing:0.7px">GBPJPY-,H4</span><span style="letter-spacing:-0.23px">&nbsp; 161.361 161.608 160.943 160.968</span></div>
<div class="t " style="left:1px;top:616px;">MACD(12,26,9) -0.1241 0.2921</div>
<div class="t " style="left:1px;top:731px;">RSI(14) 40.8395</div>
<div class="t p" style="left:1639px;top:41px;">166.070</div>
<div class="t p" style="left:1639px;top:74px;">165.050</div>
<div class="t p" style="left:1639px;top:107px;">164.000</div>
<div class="t p" style="left:1639px;top:140px;">162.980</div>
<div class="t p" style="left:1639px;top:173px;">161.930</div>
<div class="t p" style="left:1639px;top:239px;">159.860</div>
<div class="t p" style="left:1639px;top:272px;">158.840</div>
<div class="t p" style="left:1639px;top:305px;">157.790</div>
<div class="t p" style="left:1639px;top:338px;">156.770</div>
<div class="t p" style="left:1639px;top:371px;">155.720</div>
<div class="t p" style="left:1639px;top:404px;">154.700</div>
<div class="t p" style="left:1639px;top:437px;">153.650</div>
<div class="t p" style="left:1639px;top:470px;">152.630</div>
<div class="t p" style="left:1639px;top:503px;">151.580</div>
<div class="t p" style="left:1639px;top:536px;">150.560</div>
<div class="t p" style="left:1639px;top:569px;">149.510</div>
<div class="t p" style="left:1639px;top:602px;">148.490</div>
<div class="t p w" style="left:1639px;top:120px;">163.564</div>
<div class="t p w" style="left:1639px;top:153px;">162.530</div>
<div class="t p w" style="left:1639px;top:190px;">161.371</div>
<div class="t p w" style="left:1639px;top:229px;">160.149</div>
<div class="t p w" style="left:1639px;top:259px;">159.209</div>
<div class="t p w" style="left:1639px;top:204px;">160.968</div>
<div class="t p" style="left:1637px;top:614px;">2.0548</div>
<div class="t p" style="left:1637px;top:655px;">0.00</div>
<div class="t p" style="left:1637px;top:713px;">-2.804</div>
<div class="t " style="left:1637px;top:729px;">100</div>
<div class="t " style="left:1636px;top:745px;">80</div>
<div class="t " style="left:1636px;top:777px;">50</div>
<div class="t " style="left:1636px;top:814px;">15</div>
<div class="t " style="left:1637px;top:824px;">0</div>
<div class="t " style="left:-4px;top:840px;letter-spacing:-0.08px">20 Sep 2022</div>
<div class="t " style="left:60px;top:840px;letter-spacing:-0.08px">21 Sep 00:00</div>
<div class="t " style="left:124px;top:840px;letter-spacing:-0.08px">21 Sep 16:00</div>
<div class="t " style="left:188px;top:840px;letter-spacing:-0.08px">22 Sep 08:00</div>
<div class="t " style="left:252px;top:840px;letter-spacing:-0.08px">23 Sep 00:00</div>
<div class="t " style="left:316px;top:840px;letter-spacing:-0.08px">23 Sep 16:00</div>
<div class="t " style="left:380px;top:840px;letter-spacing:-0.08px">26 Sep 08:00</div>
<div class="t " style="left:444px;top:840px;letter-spacing:-0.08px">27 Sep 00:00</div>
<div class="t " style="left:508px;top:840px;letter-spacing:-0.08px">27 Sep 16:00</div>
<div class="t " style="left:572px;top:840px;letter-spacing:-0.08px">28 Sep 08:00</div>
<div class="t " style="left:636px;top:840px;letter-spacing:-0.08px">29 Sep 00:00</div>
<div class="t " style="left:700px;top:840px;letter-spacing:-0.08px">29 Sep 16:00</div>
<div class="t " style="left:764px;top:840px;letter-spacing:-0.08px">30 Sep 08:00</div>
<div class="t " style="left:828px;top:840px;letter-spacing:-0.08px">3 Oct 00:00</div>
<div class="t " style="left:892px;top:840px;letter-spacing:-0.08px">3 Oct 16:00</div>
<div class="t " style="left:956px;top:840px;letter-spacing:-0.08px">4 Oct 08:00</div>
<div class="t " style="left:1020px;top:840px;letter-spacing:-0.08px">5 Oct 00:00</div>
<div class="t " style="left:1084px;top:840px;letter-spacing:-0.08px">5 Oct 16:00</div>
<div class="t " style="left:1148px;top:840px;letter-spacing:-0.08px">6 Oct 08:00</div>
<div class="t " style="left:1212px;top:840px;letter-spacing:-0.08px">7 Oct 00:00</div>
<div class="t " style="left:1276px;top:840px;letter-spacing:-0.08px">7 Oct 16:00</div>
<div id="edge"></div><div id="edge2"></div>
</body></html>
